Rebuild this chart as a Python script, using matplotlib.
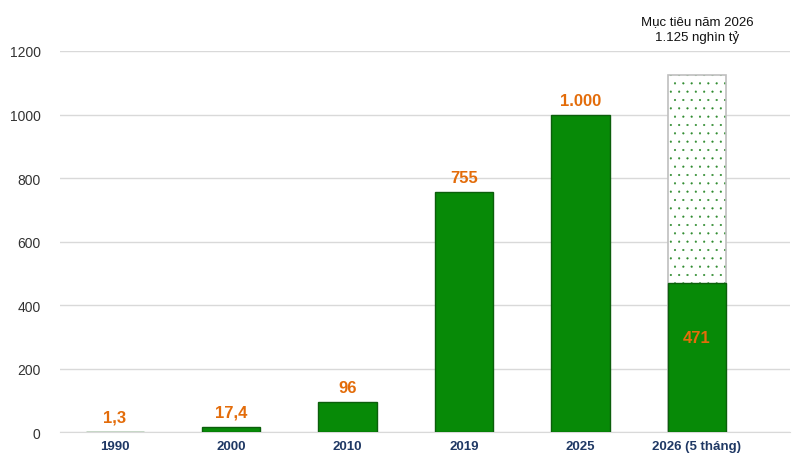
import matplotlib.pyplot as plt

# ─── DONNÉES ──────────────────────────────────────────────────────────────────
categories = ["1990", "2000", "2010", "2019", "2025", "2026 (5 tháng)"]
values = [1.3, 17.4, 96, 755, 1000, 471]
labels = ["1,3", "17,4", "96", "755", "1.000", "471"]
target_value = 1125
target_text = "Mục tiêu năm 2026\n1.125 nghìn tỷ"
yticks = [0, 200, 400, 600, 800, 1000, 1200]

GREEN = "#078A07"
EDGE = "#0B5E0B"
ORANGE = "#E36C0A"
NAVY = "#1F3864"

plt.rcParams['font.family'] = ['Liberation Sans', 'DejaVu Sans']
plt.rcParams['hatch.linewidth'] = 0.3

fig = plt.figure(figsize=(8, 4.77), dpi=100)
ax = fig.add_axes([0.075, 0.092, 0.9125, 0.799])

x = list(range(len(categories)))
last = len(categories) - 1

# objectif 2026 : barre pointillée derrière la barre réelle
ax.bar(last, target_value, width=0.5, color="white", edgecolor="#2E8B2E",
       hatch="..", linewidth=0, zorder=2)
ax.bar(last, target_value, width=0.5, fill=False, edgecolor="#BFBFBF",
       linewidth=1.2, zorder=2)

bars = ax.bar(x, values, width=0.5, color=GREEN, edgecolor=EDGE,
              linewidth=1, zorder=3)

for i, (b, lab) in enumerate(zip(bars, labels)):
    h = b.get_height()
    off = -45 if i == last else 5
    ax.annotate(lab, (b.get_x() + b.get_width() / 2, h), xytext=(0, off),
                textcoords="offset points", ha="center", va="bottom",
                color=ORANGE, fontsize=12, fontweight="bold", zorder=4)

ax.annotate(target_text, (last, 1200), xytext=(0, 6), textcoords="offset points",
            ha="center", va="bottom", fontsize=9.5, color="#111111",
            annotation_clip=False, linespacing=1.3)

ax.set_xlim(-0.47, 5.8)
ax.set_ylim(0, 1200)
ax.set_yticks(yticks)
ax.set_xticks(x)
ax.set_xticklabels(categories, color=NAVY, fontweight="bold", fontsize=9.5)
ax.tick_params(axis="y", length=0, pad=14, labelsize=10, labelcolor="#333333")
ax.tick_params(axis="x", length=0, pad=6)
ax.grid(axis="y", color="#D9D9D9", linewidth=1)
ax.set_axisbelow(True)
for s in ["top", "right", "left"]:
    ax.spines[s].set_visible(False)
ax.spines["bottom"].set_color("#D9D9D9")

plt.savefig("out.png", dpi=100)
